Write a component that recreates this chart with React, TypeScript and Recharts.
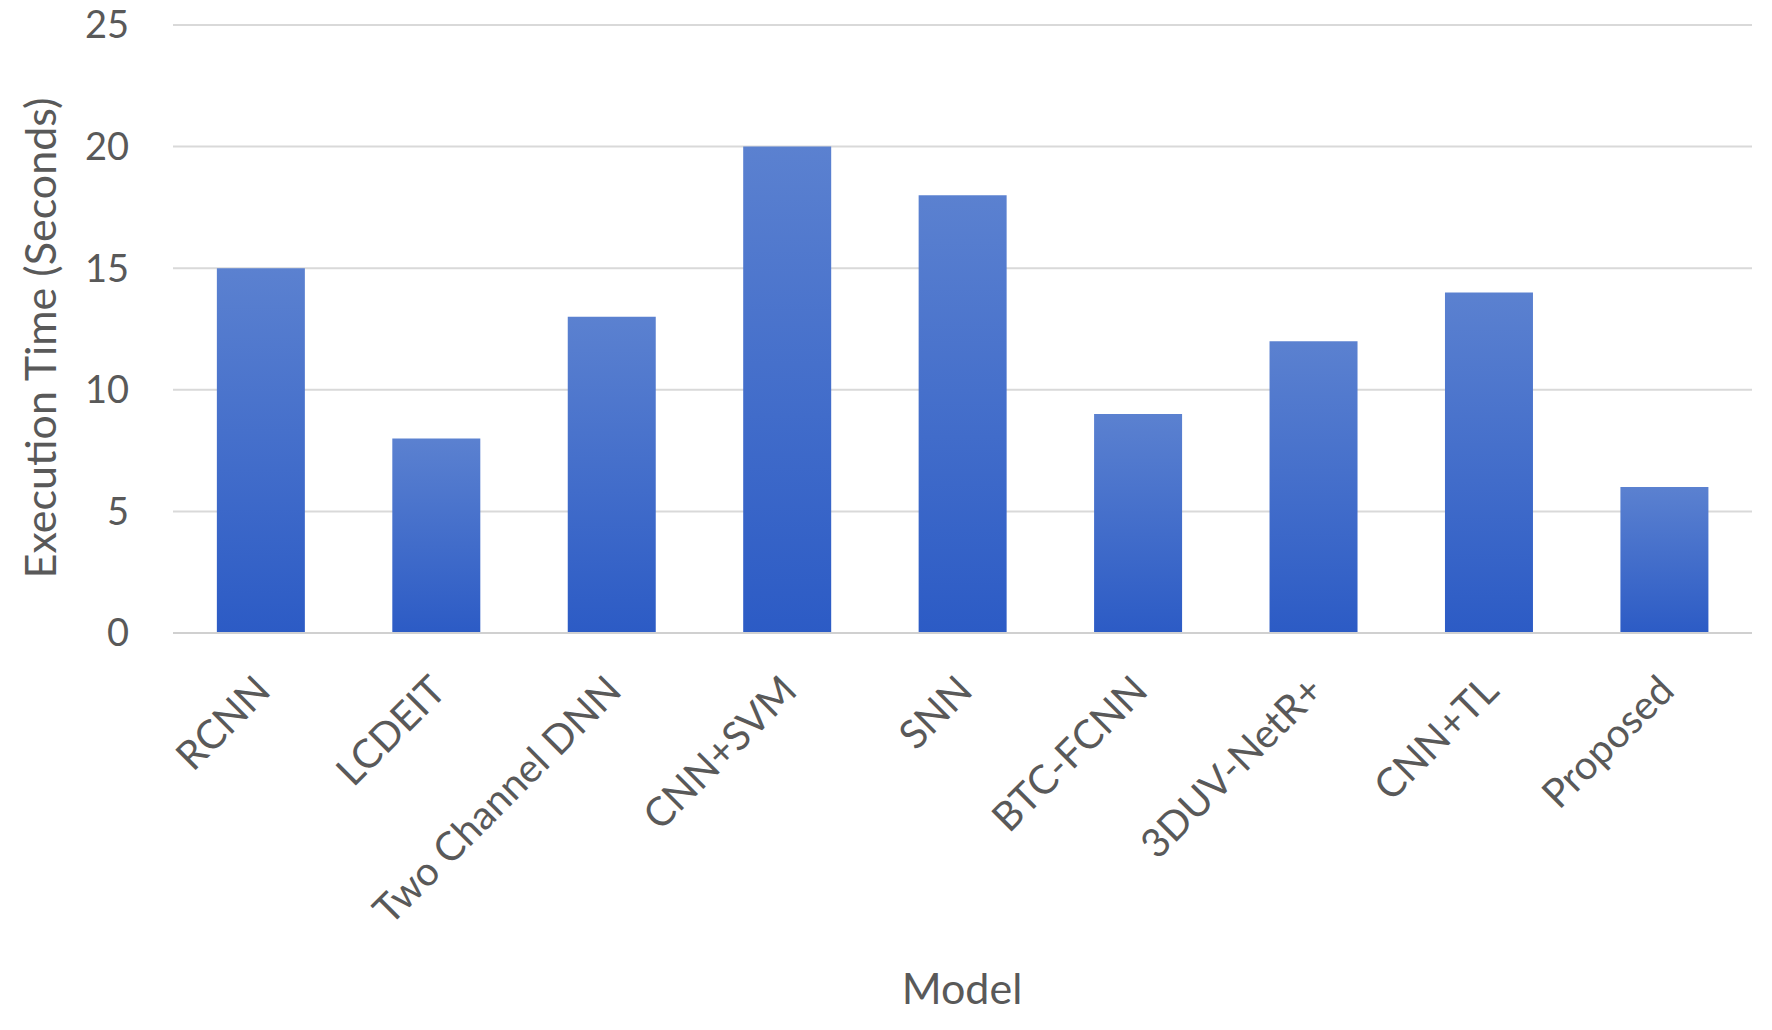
import { BarChart, Bar, XAxis, YAxis, CartesianGrid, Label } from 'recharts';

const models = ['RCNN', 'LCDEIT', 'Two Channel DNN', 'CNN+SVM', 'SNN', 'BTC-FCNN', '3DUV-NetR+', 'CNN+TL', 'Proposed'];
const executionTimes = [15, 8, 13, 20, 18, 9, 12, 14, 6];
const yTicks = [0, 5, 10, 15, 20, 25];

const data = models.map((model, i) => ({ model, time: executionTimes[i] }));

const FONT = 'Lato, "Open Sans", sans-serif';
const TEXT = '#595959';

function ModelTick(props: any) {
  const { x, y, payload } = props;
  const tx = x + 12;
  const ty = y + 60;
  return (
    <text
      x={tx}
      y={ty}
      transform={`rotate(-45, ${tx}, ${ty})`}
      textAnchor="end"
      fontFamily={FONT}
      fontSize={40}
      fill={TEXT}
    >
      {payload.value}
    </text>
  );
}

export default function App() {
  return (
    <div style={{ position: 'absolute', left: 0, top: 0, background: '#fff' }}>
      <BarChart
        width={1772}
        height={1030}
        data={data}
        margin={{ top: 25, right: 20, left: 0, bottom: 0 }}
        barCategoryGap="25%"
      >
        <defs>
          <linearGradient id="barFill" x1="0" y1="0" x2="0" y2="1">
            <stop offset="0%" stopColor="#5b81d0" />
            <stop offset="100%" stopColor="#2c5bc5" />
          </linearGradient>
        </defs>
        <CartesianGrid vertical={false} stroke="#d9d9d9" strokeWidth={2} />
        <XAxis
          dataKey="model"
          height={397}
          interval={0}
          axisLine={{ stroke: '#d0d0d0', strokeWidth: 2 }}
          tickLine={false}
          tickSize={0}
          tickMargin={0}
          tick={<ModelTick />}
        >
          <Label
            content={() => (
              <text x={962} y={1004} textAnchor="middle" fontFamily={FONT} fontSize={43} fill={TEXT}>
                Model
              </text>
            )}
          />
        </XAxis>
        <YAxis
          width={173}
          domain={[0, 25]}
          ticks={yTicks}
          axisLine={false}
          tickLine={false}
          tickSize={0}
          tickMargin={44}
          tick={{ fontFamily: FONT, fontSize: 38, fill: TEXT }}
        >
          <Label
            content={() => (
              <text
                x={56}
                y={338}
                transform="rotate(-90, 56, 338)"
                textAnchor="middle"
                fontFamily={FONT}
                fontSize={43}
                fill={TEXT}
              >
                Execution Time (Seconds)
              </text>
            )}
          />
        </YAxis>
        <Bar dataKey="time" fill="url(#barFill)" isAnimationActive={false} />
      </BarChart>
    </div>
  );
}
